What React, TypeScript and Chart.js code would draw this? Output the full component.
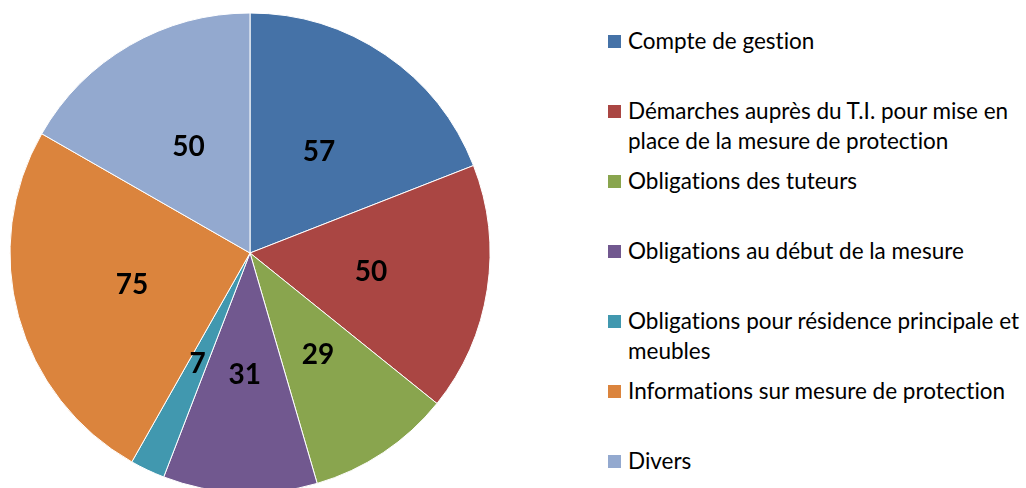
import React, { useEffect, useRef } from "react";
import { Chart, registerables } from "chart.js";

Chart.register(...registerables);

const legendLines: string[][] = [
  ["Compte de gestion"],
  ["Démarches auprès du T.I. pour mise en", "place de la mesure de protection"],
  ["Obligations des tuteurs"],
  ["Obligations au début de la mesure"],
  ["Obligations pour résidence principale et", "meubles"],
  ["Informations sur mesure de protection"],
  ["Divers"],
];
const categories: string[] = legendLines.map((l) => l.join(" "));
const values: number[] = [57, 50, 29, 31, 7, 75, 50];
const colors: string[] = ["#4572A7", "#AA4643", "#89A54E", "#71588F", "#4198AF", "#DB843D", "#93A9CF"];

const labelPlugin = {
  id: "sliceLabels",
  afterDatasetsDraw(chart: any) {
    const meta = chart.getDatasetMeta(0);
    const ctx = chart.ctx;
    ctx.save();
    ctx.font = "bold 28px Lato";
    ctx.fillStyle = "#000";
    ctx.textAlign = "center";
    ctx.textBaseline = "middle";
    meta.data.forEach((arc: any, i: number) => {
      const p = arc.getProps(["x", "y", "startAngle", "endAngle", "outerRadius"], true);
      const mid = (p.startAngle + p.endAngle) / 2;
      const r = p.outerRadius * 0.51;
      ctx.fillText(String(values[i]), p.x + Math.cos(mid) * r, p.y + Math.sin(mid) * r);
    });
    ctx.restore();
  },
};

export default function App() {
  const ref = useRef<HTMLCanvasElement | null>(null);
  useEffect(() => {
    if (!ref.current) return;
    const chart = new Chart(ref.current, {
      type: "pie",
      data: {
        labels: categories,
        datasets: [
          {
            data: values,
            backgroundColor: colors,
            borderColor: "#ffffff",
            borderWidth: 1,
          },
        ],
      },
      options: {
        animation: false,
        responsive: false,
        radius: 240,
        layout: { padding: 0 },
        plugins: { legend: { display: false }, tooltip: { enabled: false } },
      } as any,
      plugins: [labelPlugin],
    });
    return () => chart.destroy();
  }, []);

  return (
    <div
      style={{
        position: "fixed",
        left: 0,
        top: 0,
        width: 1026,
        height: 488,
        overflow: "hidden",
        background: "#fff",
        fontFamily: "Lato, sans-serif",
      }}
    >
      <canvas ref={ref} width={500} height={506} style={{ position: "absolute", left: 0, top: 0 }} />
      <div style={{ position: "absolute", left: 608, top: 26 }}>
        {legendLines.map((lines, i) => (
          <div key={i} style={{ height: 70, position: "relative" }}>
            <div
              style={{
                position: "absolute",
                left: 0,
                top: 9,
                width: 13,
                height: 13,
                background: colors[i],
              }}
            />
            <div
              style={{
                position: "absolute",
                left: 20,
                top: 0,
                whiteSpace: "nowrap",
                fontSize: 22.5,
                lineHeight: "30px",
                color: "#000",
                fontVariantLigatures: "none",
              }}
            >
              {lines.map((t, j) => (
                <div key={j}>{t}</div>
              ))}
            </div>
          </div>
        ))}
      </div>
    </div>
  );
}
